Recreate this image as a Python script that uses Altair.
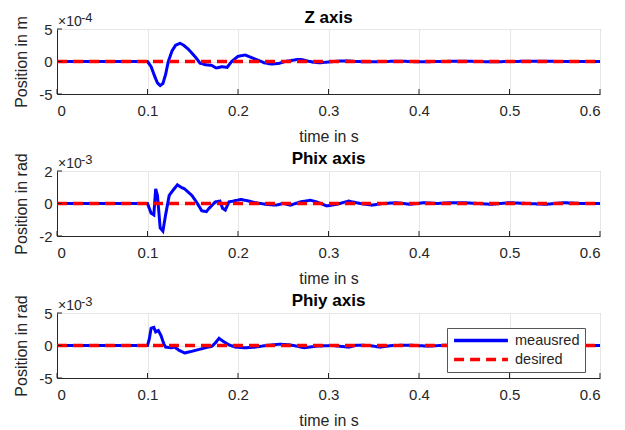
import altair as alt
import pandas as pd

FONT = "Liberation Sans"

time_ticks = [0, 0.1, 0.2, 0.3, 0.4, 0.5, 0.6]
series_names = ["meausred", "desired"]
series_colors = ["#0000ff", "#ff0000"]
panel_titles = ["Z axis", "Phix axis", "Phiy axis"]
y_titles = ["Position in m", "Position in rad", "Position in rad"]
y_limits = [5, 2, 5]
exponents = ["-4", "-3", "-3"]

# Z axis (values in units of 1e-4 m)
z_t = [0, 0.05, 0.1, 0.104, 0.108, 0.111, 0.114, 0.117, 0.12, 0.123, 0.127, 0.131,
       0.136, 0.14, 0.145, 0.149, 0.154, 0.158, 0.164, 0.171, 0.176, 0.182, 0.188,
       0.193, 0.2, 0.208, 0.215, 0.222, 0.229, 0.237, 0.245, 0.252, 0.259, 0.265,
       0.27, 0.276, 0.283, 0.29, 0.298, 0.31, 0.32, 0.33, 0.345, 0.36, 0.38, 0.4,
       0.42, 0.45, 0.48, 0.5, 0.53, 0.56, 0.6]
z_v = [0, 0, 0, -0.8, -2.3, -3.3, -3.7, -3.4, -2.0, 0, 1.6, 2.5,
       2.8, 2.5, 1.9, 1.3, 0.5, -0.25, -0.5, -0.6, -1.0, -0.8, -0.9,
       0, 0.8, 1.0, 0.6, 0.2, -0.2, -0.4, -0.3, 0, 0.15, 0.3,
       0.3, 0.1, -0.1, -0.2, -0.1, 0.05, 0.1, 0, -0.05, 0, 0.05, -0.05,
       0, 0.05, -0.05, 0, 0.05, 0, 0]

# Phix axis (values in units of 1e-3 rad)
phix_t = [0, 0.05, 0.1, 0.104, 0.107, 0.109, 0.111, 0.114, 0.117, 0.12, 0.124, 0.128,
          0.133, 0.137, 0.141, 0.149, 0.154, 0.16, 0.165, 0.168, 0.175, 0.18, 0.183,
          0.186, 0.19, 0.195, 0.203, 0.212, 0.219, 0.231, 0.242, 0.25, 0.258, 0.269,
          0.28, 0.287, 0.298, 0.309, 0.322, 0.335, 0.348, 0.36, 0.375, 0.39, 0.405,
          0.42, 0.435, 0.45, 0.465, 0.48, 0.5, 0.52, 0.54, 0.56, 0.58, 0.6]
phix_v = [0, 0, 0, -0.6, -0.7, 0.9, 0.5, -1.5, -1.7, -0.7, 0.5, 0.8,
          1.15, 1.0, 0.9, 0.5, 0.1, -0.45, -0.5, -0.3, 0.1, 0.15, -0.3,
          -0.4, 0.1, 0.15, 0.25, 0.15, 0.05, -0.05, -0.1, 0, -0.1, 0.1,
          0.2, 0.1, -0.15, -0.05, 0.15, 0, -0.1, 0, 0.05, -0.05, 0.05,
          0, 0.05, 0.05, 0, -0.05, 0.05, 0, -0.05, 0.05, 0, 0]

# Phiy axis (values in units of 1e-3 rad)
phiy_t = [0, 0.05, 0.1, 0.102, 0.104, 0.107, 0.109, 0.112, 0.115, 0.118, 0.12, 0.126,
          0.13, 0.135, 0.141, 0.149, 0.16, 0.167, 0.171, 0.175, 0.179, 0.184, 0.19,
          0.197, 0.208, 0.219, 0.231, 0.246, 0.257, 0.265, 0.273, 0.287, 0.304, 0.322,
          0.331, 0.345, 0.357, 0.37, 0.39, 0.41, 0.43, 0.45, 0.47, 0.5, 0.53, 0.56, 0.6]
phiy_v = [0, 0, 0, 1.0, 2.65, 2.8, 2.1, 2.3, 1.5, 0.25, -0.25, -0.35,
          -0.25, -0.75, -1.15, -0.9, -0.5, -0.25, -0.15, 0.4, 1.1, 0.6, 0.1,
          -0.25, -0.35, -0.25, 0, 0.2, 0.1, -0.1, -0.35, -0.1, 0, -0.25,
          0.05, 0, -0.25, 0, 0.05, -0.1, 0.05, 0, -0.05, 0.05, 0, 0, 0]

desired_t = [0, 0.6]
desired_v = [0, 0]

W, H = 543, 65
DARK = "#262626"


def panel(i, t, v, show_legend):
    lim = y_limits[i]
    meas = pd.DataFrame({"t": t, "v": v, "series": series_names[0]})
    des = pd.DataFrame({"t": desired_t, "v": desired_v, "series": series_names[1]})
    xscale = alt.Scale(domain=[0, 0.6], nice=False, zero=False)
    yscale = alt.Scale(domain=[-lim, lim], nice=False, zero=False)
    xaxis = alt.Axis(title="time in s", values=time_ticks, format="~g", grid=True,
                     tickSize=0, labelPadding=9, titlePadding=10)
    yaxis = alt.Axis(title=y_titles[i], values=[-lim, 0, lim], format="d",
                     labelExpr="replace(datum.label, '\u2212', '-')",
                     grid=True, tickSize=0, labelPadding=5, titlePadding=9)
    X = alt.X("t:Q", scale=xscale, axis=xaxis)
    Y = alt.Y("v:Q", scale=yscale, axis=yaxis)
    if show_legend:
        legend = alt.Legend(title=None, orient="none", legendX=390, legendY=15,
                            symbolType="stroke", symbolSize=2900, symbolStrokeWidth=3.5,
                            clipHeight=15,
                            labelFontSize=14.5, labelFont=FONT, labelColor=DARK,
                            fillColor="white", strokeColor="#555555", padding=5,
                            rowPadding=3, labelOffset=5)
    else:
        legend = None
    color = alt.Color("series:N", scale=alt.Scale(domain=series_names, range=series_colors),
                      legend=legend)
    dash = alt.StrokeDash("series:N", scale=alt.Scale(domain=series_names, range=[[1, 0], [10, 6]]),
                          legend=legend)
    m = alt.Chart(meas).mark_line(strokeWidth=3).encode(
        x=X, y=Y, color=color, strokeDash=dash)
    d = alt.Chart(des).mark_line(strokeWidth=3.5).encode(
        x=X, y=Y, color=color, strokeDash=dash)
    xt = alt.Chart(pd.DataFrame({"t": time_ticks})).mark_rule(color=DARK).encode(
        x=X, y=alt.value(H), y2=alt.value(H - 5))
    yt = alt.Chart(pd.DataFrame({"v": [-lim, 0, lim]})).mark_rule(color=DARK).encode(
        y=Y, x=alt.value(0), x2=alt.value(5))
    e1 = alt.Chart(pd.DataFrame({"s": ["×10"]})).mark_text(
        align="left", baseline="alphabetic", fontSize=14, font=FONT, color=DARK).encode(
        text="s:N", x=alt.value(1), y=alt.value(-3))
    e2 = alt.Chart(pd.DataFrame({"s": [exponents[i]]})).mark_text(
        align="left", baseline="alphabetic", fontSize=13, font=FONT, color=DARK).encode(
        text="s:N", x=alt.value(24), y=alt.value(-7))
    return alt.layer(m, d, xt, yt, e1, e2).properties(
        width=W, height=H,
        title=alt.TitleParams(panel_titles[i], fontSize=17, fontWeight="bold", font=FONT,
                              offset=-15, color="black"))


chart = alt.vconcat(
    panel(0, z_t, z_v, False),
    panel(1, phix_t, phix_v, False),
    panel(2, phiy_t, phiy_v, True),
    spacing=4,
).resolve_scale(color="independent", strokeDash="independent").properties(
    padding={"left": 5, "top": 0, "right": 5, "bottom": 0},
    background="white"
).configure_view(stroke="#a6a6a6", strokeWidth=1).configure_axis(
    domainColor=DARK, gridColor="#e6e6e6", labelFont=FONT, titleFont=FONT,
    labelFontSize=15, titleFontSize=16, titleFontWeight="normal",
    labelColor=DARK, titleColor=DARK
)

chart.save("out.html", embed_options={"renderer": "svg", "actions": False})
